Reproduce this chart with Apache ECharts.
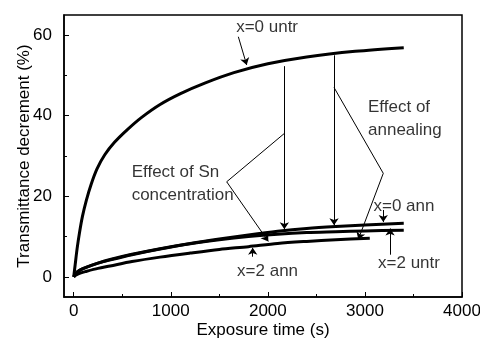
<!DOCTYPE html>
<html lang="en">
<head>
    <meta charset="UTF-8">
    <title>Transmittance decrement</title>
    <script src="https://cdn.jsdelivr.net/npm/echarts@6/dist/echarts.min.js"></script>
    <style>
        html, body { margin: 0; padding: 0; background: #fff; }
        #chart { width: 480px; height: 347px; }
    </style>
</head>
<body>
    <div id="chart"></div>
    <script>
        // curves: [exposure time (s), transmittance decrement (%)]
        var x0Untr = [[0, 0], [15, 3.0], [35, 7], [60, 11], [90, 15], [130, 19], [180, 23], [240, 26.8],
            [320, 30.3], [420, 33.4], [550, 36.5], [700, 39.6], [890, 42.8], [1100, 45.5], [1350, 48.1], [1650, 50.7],
            [2000, 52.9], [2400, 54.6], [2900, 56.0], [3400, 56.9]];
        var x0Ann = [[0, 0], [20, 0.8], [60, 1.6], [134, 2.4], [250, 3.4], [375, 4.3], [600, 5.6], [890, 7.0],
            [1200, 8.3], [1500, 9.4], [1800, 10.4], [2100, 11.3], [2400, 12.0], [2700, 12.5], [3000, 12.9], [3400, 13.3]];
        var x2Untr = [[0, 0], [20, 0.8], [60, 1.6], [134, 2.4], [250, 3.4], [375, 4.2], [600, 5.5], [890, 6.9],
            [1200, 8.2], [1500, 9.2], [1800, 10.0], [2100, 10.6], [2400, 11.0], [2700, 11.2], [3000, 11.4], [3400, 11.6]];
        var x2Ann = [[0, 0], [20, 0.4], [60, 0.9], [134, 1.4], [250, 2.1], [375, 2.7], [600, 3.8], [890, 4.9],
            [1200, 5.9], [1500, 6.8], [1800, 7.5], [2100, 8.3], [2400, 8.8], [2700, 9.2], [3050, 9.6]];

        // axis ticks
        var xMajor = [0, 1000, 2000, 3000, 4000];
        var xMinor = [500, 1500, 2500, 3500];
        var yMajor = [0, 20, 40, 60];
        var yMinor = [10, 30, 50];

        // curve labels and their arrows
        var curveNames = ['x=0 untr', 'x=0 ann', 'x=2 untr', 'x=2 ann'];
        var curveNamePos = [[1992, 62.0], [3402, 17.4], [3454, 3.4], [1997, 1.3]];
        var arrowSegs = [
            [[1696, 59.6], [1782, 52.6]],   // x=0 untr
            [[3189, 16.6], [3189, 13.6]],   // x=0 ann
            [[3259, 5.5], [3259, 12.0]],    // x=2 untr
            [[1844, 5.0], [1844, 7.2]],     // x=2 ann
            [[2170, 52.3], [2170, 11.8]],   // vertical 1
            [[2682, 55.0], [2682, 12.8]],   // vertical 2
            [[1576, 23.6], [2005, 8.8]],    // Sn bracket lower
            [[3189, 25.7], [2932, 9.3]]     // annealing bracket lower
        ];
        var plainSegs = [
            [[1576, 23.6], [2170, 35.6]],   // Sn bracket upper
            [[3189, 25.7], [2682, 47.0]]    // annealing bracket upper
        ];
        var effectNames = ['Effect of Sn\nconcentration', 'Effect of\nannealing'];
        var effectPos = [[597, 23.2], [3032, 39.2]];

        var font = 'Liberation Sans, Arial, Helvetica, sans-serif';
        var chart = echarts.init(document.getElementById('chart'));

        function curve(data) {
            return {
                type: 'line',
                data: data,
                smooth: 0.3,
                showSymbol: false,
                lineStyle: { color: '#000', width: 3 },
                silent: true
            };
        }

        function plain(v) { return String(v); }

        var option = {
            animation: false,
            grid: {
                left: 64, right: 18, top: 15, bottom: 50, containLabel: false, outerBoundsMode: 'none',
                show: true, borderColor: '#000', borderWidth: 1.5
            },
            xAxis: [{
                type: 'value', min: -100, max: 4000,
                name: 'Exposure time (s)', nameLocation: 'middle', nameGap: 25, nameMoveOverlap: false,
                nameTextStyle: { color: '#000', fontSize: 17, fontFamily: font },
                axisLine: { onZero: false, lineStyle: { color: '#000', width: 1.5 } },
                axisTick: { inside: true, length: 5, customValues: xMajor, lineStyle: { color: '#000' } },
                axisLabel: { customValues: xMajor, formatter: plain, color: '#000', fontSize: 17, fontFamily: font, margin: 6 },
                splitLine: { show: false }
            }, {
                type: 'value', min: -100, max: 4000, position: 'bottom', gridIndex: 0,
                axisLine: { show: false, onZero: false },
                axisTick: { inside: true, length: 3, customValues: xMinor, lineStyle: { color: '#000' } },
                axisLabel: { show: false },
                splitLine: { show: false }
            }],
            yAxis: [{
                type: 'value', min: -5, max: 65,
                name: 'Transmittance decrement (%)', nameLocation: 'middle', nameGap: 31, nameMoveOverlap: false,
                nameTextStyle: { color: '#000', fontSize: 17, fontFamily: font },
                axisLine: { onZero: false, lineStyle: { color: '#000', width: 1.5 } },
                axisTick: { inside: true, length: 5, customValues: yMajor, lineStyle: { color: '#000' } },
                axisLabel: { customValues: yMajor, formatter: plain, color: '#000', fontSize: 17, fontFamily: font, margin: 12 },
                splitLine: { show: false }
            }, {
                type: 'value', min: -5, max: 65, position: 'left', gridIndex: 0,
                axisLine: { show: false, onZero: false },
                axisTick: { inside: true, length: 3, customValues: yMinor, lineStyle: { color: '#000' } },
                axisLabel: { show: false },
                splitLine: { show: false }
            }],
            series: [
                curve(x0Untr), curve(x0Ann), curve(x2Untr), curve(x2Ann),
                {
                    type: 'lines', coordinateSystem: 'cartesian2d', silent: true,
                    symbol: ['none', 'arrow'], symbolSize: 7,
                    lineStyle: { color: '#000', width: 1, opacity: 1 },
                    data: arrowSegs.map(function (s) { return { coords: s }; })
                },
                {
                    type: 'lines', coordinateSystem: 'cartesian2d', silent: true,
                    symbol: 'none',
                    lineStyle: { color: '#000', width: 1, opacity: 1 },
                    data: plainSegs.map(function (s) { return { coords: s }; })
                },
                {
                    type: 'scatter', silent: true, symbolSize: 0,
                    data: curveNamePos.map(function (p, i) { return { value: p, name: curveNames[i] }; }),
                    label: {
                        show: true, position: [0, 0], align: 'center', verticalAlign: 'middle',
                        formatter: '{b}', color: '#000', fontSize: 17, fontFamily: font
                    }
                },
                {
                    type: 'scatter', silent: true, symbolSize: 0,
                    data: effectPos.map(function (p, i) { return { value: p, name: effectNames[i] }; }),
                    label: {
                        show: true, position: [0, 0], align: 'left', verticalAlign: 'middle', lineHeight: 23,
                        formatter: '{b}', color: '#000', fontSize: 17, fontFamily: font
                    }
                }
            ]
        };
        chart.setOption(option);
    </script>
</body>
</html>
